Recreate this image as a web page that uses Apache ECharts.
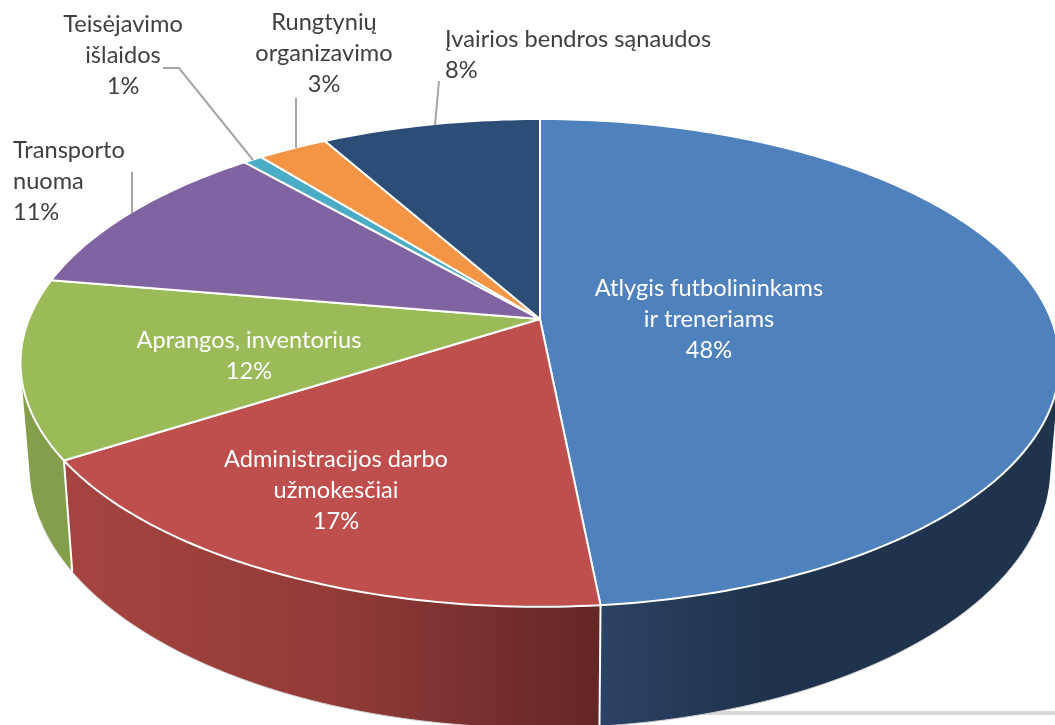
<!DOCTYPE html>
<html>
<head>
<meta charset="utf-8">
<style>html,body{margin:0;padding:0;background:#fff}#c{width:1055px;height:725px}</style>
<script src="https://cdn.jsdelivr.net/npm/echarts@6/dist/echarts.min.js"></script>
</head>
<body>
<div id="c"></div>
<script>
const categories = ['Atlygis futbolininkams\nir treneriams','Administracijos darbo\nužmokesčiai','Aprangos, inventorius','Transporto\nnuoma','Teisėjavimo\nišlaidos','Rungtynių\norganizavimo','Įvairios bendros sąnaudos'];
const shares = [48.45,17.45,11.8,10.9,0.7,2.6,8.1];
const topColors = ['#4F81BD','#BE4F4C','#9BBB59','#8064A2','#4BACC6','#F39545','#2C4D75'];

// label layout, by slice: anchor x, first-line centre y, alignment, colour
const labelLayout = [
  {x:709,y:288,align:'center',fill:'#fff'},
  {x:336,y:459,align:'center',fill:'#fff'},
  {x:249,y:340,align:'center',fill:'#fff'},
  {x:13,y:150,align:'left',fill:'#404040'},
  {x:123,y:24,align:'center',fill:'#404040'},
  {x:324,y:22,align:'center',fill:'#404040'},
  {x:445,y:39,align:'left',fill:'#404040'}
];
const leaders = [
  null,null,null,
  [[132,172],[132,213]],
  [[163,68],[179,68],[253,160]],
  [[296,98],[296,148]],
  [[439,81],[435,125]]
];
const wallFill = [
  {type:'linear',x:596,y:0,x2:760,y2:0,global:true,colorStops:[{offset:0,color:'#2b4366'},{offset:1,color:'#1f334c'}]},
  {type:'linear',x:75,y:0,x2:595,y2:0,global:true,colorStops:[{offset:0,color:'#a5443f'},{offset:0.5,color:'#923b38'},{offset:1,color:'#642725'}]},
  '#849f4c','#6a5388','#3d8fa5','#cd7b39','#24405f'
];

// perspective projection of the pie's rim
const K = 0.18;
const rimTop = {cx:540,cy:319,a:511,b:236};
const rimBottom = {cx:540,cy:421,a:502,b:251.7};
function rim(p, deg){
  const t = deg*Math.PI/180, u = Math.sin(t), v = -Math.cos(t), w = 1-K*v;
  return [p.cx+p.a*u/w, p.cy+p.b*v/w];
}
const total = shares.reduce((s,v)=>s+v,0);
function angles(i){
  let start = 0;
  for(let k=0;k<i;k++) start += shares[k];
  return [start/total*360,(start+shares[i])/total*360];
}
const FRONT = [85,285];
const EDGE = [112,250];

function hull(points){
  const p = points.slice().sort((a,b)=>a[0]-b[0]||a[1]-b[1]);
  const cross = (o,a,b)=>(a[0]-o[0])*(b[1]-o[1])-(a[1]-o[1])*(b[0]-o[0]);
  const lo = [], up = [];
  for(const q of p){ while(lo.length>1&&cross(lo[lo.length-2],lo[lo.length-1],q)<=0) lo.pop(); lo.push(q); }
  for(const q of p.slice().reverse()){ while(up.length>1&&cross(up[up.length-2],up[up.length-1],q)<=0) up.pop(); up.push(q); }
  return lo.slice(0,-1).concat(up.slice(0,-1));
}

function renderWall(params, api){
  const i = params.dataIndex;
  const [a0,a1] = angles(i);
  const from = Math.max(a0,FRONT[0]), to = Math.min(a1,FRONT[1]);
  const children = [];
  if(to>from){
    const n = Math.max(2,Math.ceil(to-from));
    const pts = [], edge = [];
    for(let s=0;s<=n;s++){
      const d = from+(to-from)*s/n;
      pts.push(rim(rimTop,d),rim(rimBottom,d));
      if(d>=EDGE[0]&&d<=EDGE[1]) edge.push(rim(rimBottom,d));
    }
    children.push({type:'polygon',silent:true,shape:{points:hull(pts)},
      style:{fill:wallFill[i],stroke:null}});
    if(edge.length>1) children.push({type:'polyline',silent:true,shape:{points:edge},
      style:{fill:'none',stroke:'#d0d0d0',lineWidth:1}});
    if(a0>=FRONT[0]) children.push({type:'line',silent:true,
      shape:{x1:rim(rimTop,a0)[0],y1:rim(rimTop,a0)[1],x2:rim(rimBottom,a0)[0],y2:rim(rimBottom,a0)[1]},
      style:{stroke:'#fff',lineWidth:2},z2:5});
  }
  return {type:'group',children:children};
}

function renderTop(params, api){
  const i = params.dataIndex;
  const [a0,a1] = angles(i);
  const n = Math.max(2,Math.ceil((a1-a0)/1));
  const pts = [[rimTop.cx,rimTop.cy]];
  for(let s=0;s<=n;s++) pts.push(rim(rimTop,a0+(a1-a0)*s/n));
  return {type:'group',children:[{type:'polygon',shape:{points:pts},
    style:{fill:topColors[i],stroke:'#fff',lineWidth:2,lineJoin:'round'}}]};
}

function renderLabel(params, api){
  const i = params.dataIndex;
  const L = labelLayout[i];
  const pct = Math.round(api.value(0)/total*100)+'%';
  const children = [{type:'text',silent:true,
    style:{x:L.x,y:L.y-15.5,text:categories[i]+'\n'+pct,align:L.align,verticalAlign:'top',
      fontFamily:'Lato',fontSize:23.6,lineHeight:31,fill:L.fill}}];
  if(leaders[i]) children.push({type:'polyline',silent:true,shape:{points:leaders[i]},
    style:{fill:'none',stroke:'#a6a6a6',lineWidth:2}});
  return {type:'group',children:children};
}

const data = shares.map((v,i)=>({name:categories[i],value:[v]}));
const chart = echarts.init(document.getElementById('c'),null,{renderer:'canvas'});
chart.setOption({
  animation:false,
  backgroundColor:'#fff',
  graphic:[{type:'rect',z:-1,silent:true,shape:{x:700,y:711,width:355,height:4},style:{fill:'#d9d9d9'}}],
  series:[
    {type:'custom',coordinateSystem:'none',renderItem:renderWall,data:data,z:2,silent:true,clip:false},
    {type:'custom',coordinateSystem:'none',renderItem:renderTop,data:data,z:3,silent:true,clip:false},
    {type:'custom',coordinateSystem:'none',renderItem:renderLabel,data:data,z:4,silent:true,clip:false}
  ]
});
</script>
</body>
</html>
